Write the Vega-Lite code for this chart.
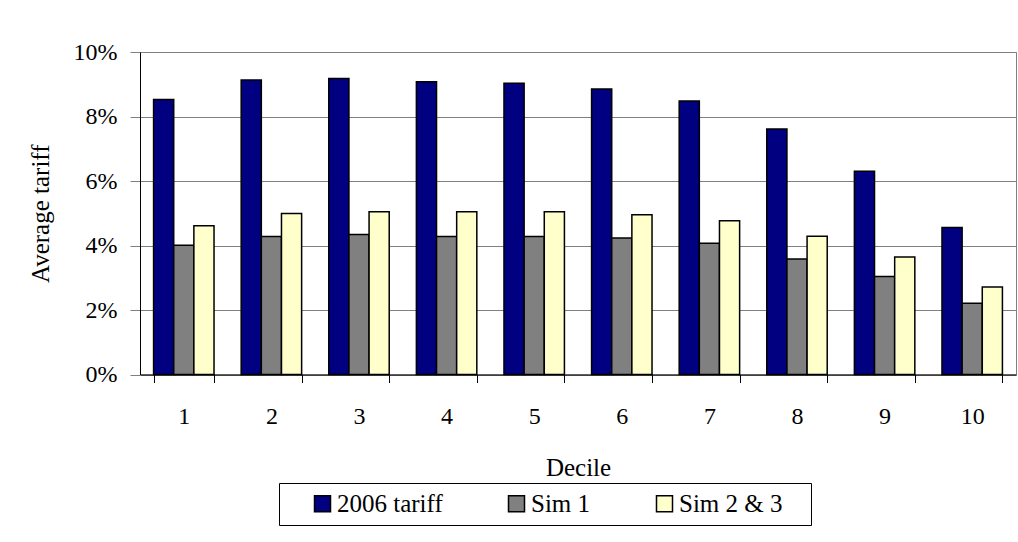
{
  "$schema": "https://vega.github.io/schema/vega-lite/v6.json",
  "width": 876,
  "height": 322.5,
  "autosize": {"type": "none"},
  "padding": {"left": 140, "top": 52, "right": 2, "bottom": 167.5},
  "background": "white",
  "config": {
    "font": "Liberation Serif",
    "view": {"stroke": "#808080", "strokeWidth": 1},
    "axis": {"labelFont": "Liberation Serif", "titleFont": "Liberation Serif", "labelColor": "black", "titleColor": "black", "titleFontWeight": "normal"},
    "legend": {"labelFont": "Liberation Serif", "titleFont": "Liberation Serif"}
  },
  "data": {
    "values": [
      {"decile": 1, "series": "2006 tariff", "value": 0.0853},
      {"decile": 1, "series": "Sim 1", "value": 0.0401},
      {"decile": 1, "series": "Sim 2 & 3", "value": 0.0461},
      {"decile": 2, "series": "2006 tariff", "value": 0.0913},
      {"decile": 2, "series": "Sim 1", "value": 0.0428},
      {"decile": 2, "series": "Sim 2 & 3", "value": 0.0499},
      {"decile": 3, "series": "2006 tariff", "value": 0.0918},
      {"decile": 3, "series": "Sim 1", "value": 0.0434},
      {"decile": 3, "series": "Sim 2 & 3", "value": 0.0505},
      {"decile": 4, "series": "2006 tariff", "value": 0.0908},
      {"decile": 4, "series": "Sim 1", "value": 0.0428},
      {"decile": 4, "series": "Sim 2 & 3", "value": 0.0505},
      {"decile": 5, "series": "2006 tariff", "value": 0.0903},
      {"decile": 5, "series": "Sim 1", "value": 0.0428},
      {"decile": 5, "series": "Sim 2 & 3", "value": 0.0505},
      {"decile": 6, "series": "2006 tariff", "value": 0.0885},
      {"decile": 6, "series": "Sim 1", "value": 0.0423},
      {"decile": 6, "series": "Sim 2 & 3", "value": 0.0495},
      {"decile": 7, "series": "2006 tariff", "value": 0.0848},
      {"decile": 7, "series": "Sim 1", "value": 0.0407},
      {"decile": 7, "series": "Sim 2 & 3", "value": 0.0477},
      {"decile": 8, "series": "2006 tariff", "value": 0.0761},
      {"decile": 8, "series": "Sim 1", "value": 0.0358},
      {"decile": 8, "series": "Sim 2 & 3", "value": 0.0429},
      {"decile": 9, "series": "2006 tariff", "value": 0.0630},
      {"decile": 9, "series": "Sim 1", "value": 0.0304},
      {"decile": 9, "series": "Sim 2 & 3", "value": 0.0364},
      {"decile": 10, "series": "2006 tariff", "value": 0.0456},
      {"decile": 10, "series": "Sim 1", "value": 0.0221},
      {"decile": 10, "series": "Sim 2 & 3", "value": 0.0271}
    ]
  },
  "mark": {"type": "bar", "stroke": "black", "strokeWidth": 1.5},
  "encoding": {
    "x": {
      "field": "decile", "type": "ordinal", "title": "Decile",
      "scale": {"paddingInner": 0.31, "paddingOuter": 0.155},
      "axis": {
        "labelAngle": 0, "labelFont": "Liberation Serif", "titleFont": "Liberation Serif",
        "labelFontSize": 24, "titleFontSize": 25,
        "tickBand": "extent", "tickSize": 8, "tickColor": "black", "domainColor": "black",
        "labelPadding": 22, "titlePadding": 27, "grid": false
      }
    },
    "xOffset": {"field": "series", "type": "nominal", "scale": {"paddingInner": 0, "paddingOuter": 0}},
    "y": {
      "field": "value", "type": "quantitative", "title": "Average tariff",
      "scale": {"domain": [0, 0.1], "nice": false},
      "axis": {
        "format": ".0%", "values": [0, 0.02, 0.04, 0.06, 0.08, 0.1],
        "labelFont": "Liberation Serif", "titleFont": "Liberation Serif",
        "labelFontSize": 24, "titleFontSize": 25,
        "tickSize": 10, "tickColor": "#808080", "domainColor": "black",
        "gridColor": "#808080", "gridOpacity": 1, "gridWidth": 1,
        "labelPadding": 13, "titlePadding": 20
      }
    },
    "color": {
      "field": "series", "type": "nominal",
      "scale": {"domain": ["2006 tariff", "Sim 1", "Sim 2 & 3"], "range": ["#000080", "#808080", "#FFFFCC"]},
      "legend": {
        "title": " ", "titleOrient": "right", "titleFontSize": 6, "titlePadding": 21,
        "orient": "none", "legendX": 139, "legendY": 431, "direction": "horizontal",
        "symbolType": "square", "symbolSize": 256, "symbolStrokeColor": "black", "symbolStrokeWidth": 1.5,
        "symbolOpacity": 1, "symbolOffset": 23, "labelOffset": 2,
        "labelFont": "Liberation Serif", "labelFontSize": 25, "labelColor": "black", "labelLimit": 300,
        "columnPadding": 38, "padding": 8,
        "strokeColor": "black", "fillColor": "white"
      }
    }
  }
}
